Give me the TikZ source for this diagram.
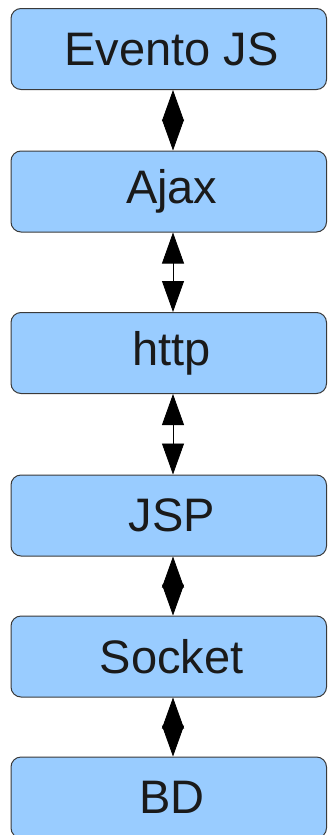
\documentclass[tikz,border=0pt]{standalone}
\usepackage{fontspec}
\setmainfont{Liberation Sans}
\usetikzlibrary{arrows.meta}
\definecolor{boxfill}{HTML}{99CCFF}
\definecolor{boxline}{HTML}{3A3A3A}
\definecolor{boxtext}{HTML}{1A1A1A}
\tikzset{
  layer/.style={draw=boxline, line width=1pt, fill=boxfill, rounded corners=10pt,
    minimum width=315.5pt, minimum height=81pt, inner sep=0pt,
    text=boxtext, font=\fontsize{47}{50}\selectfont,
    execute at begin node=\hspace*{6pt}},
  biarrow/.style={line width=0.8pt, {Triangle[length=31pt,width=22pt]}-{Triangle[length=31pt,width=22pt]}}
}
\begin{document}
\begin{tikzpicture}[x=1pt,y=-1pt]
  \useasboundingbox (0,0) rectangle (328,835);
  \coordinate (axis) at (173,0);
  \node[layer] (evento) at (168.75,49) {Evento JS};
  \node[layer] (ajax)   at (168.75,191.5) {Ajax};
  \node[layer] (http)   at (168.75,353) {http};
  \node[layer] (jsp)    at (168.75,515.5) {JSP};
  \node[layer] (socket) at (168.75,656.5) {Socket};
  \node[layer] (bd)     at (168.75,797.5) {BD};
  \draw[biarrow] (evento.south -| axis) -- (ajax.north -| axis);
  \draw[biarrow] (ajax.south -| axis) -- (http.north -| axis);
  \draw[biarrow] (http.south -| axis) -- (jsp.north -| axis);
  \draw[biarrow] (jsp.south -| axis) -- (socket.north -| axis);
  \draw[biarrow] (socket.south -| axis) -- (bd.north -| axis);
\end{tikzpicture}
\end{document}
